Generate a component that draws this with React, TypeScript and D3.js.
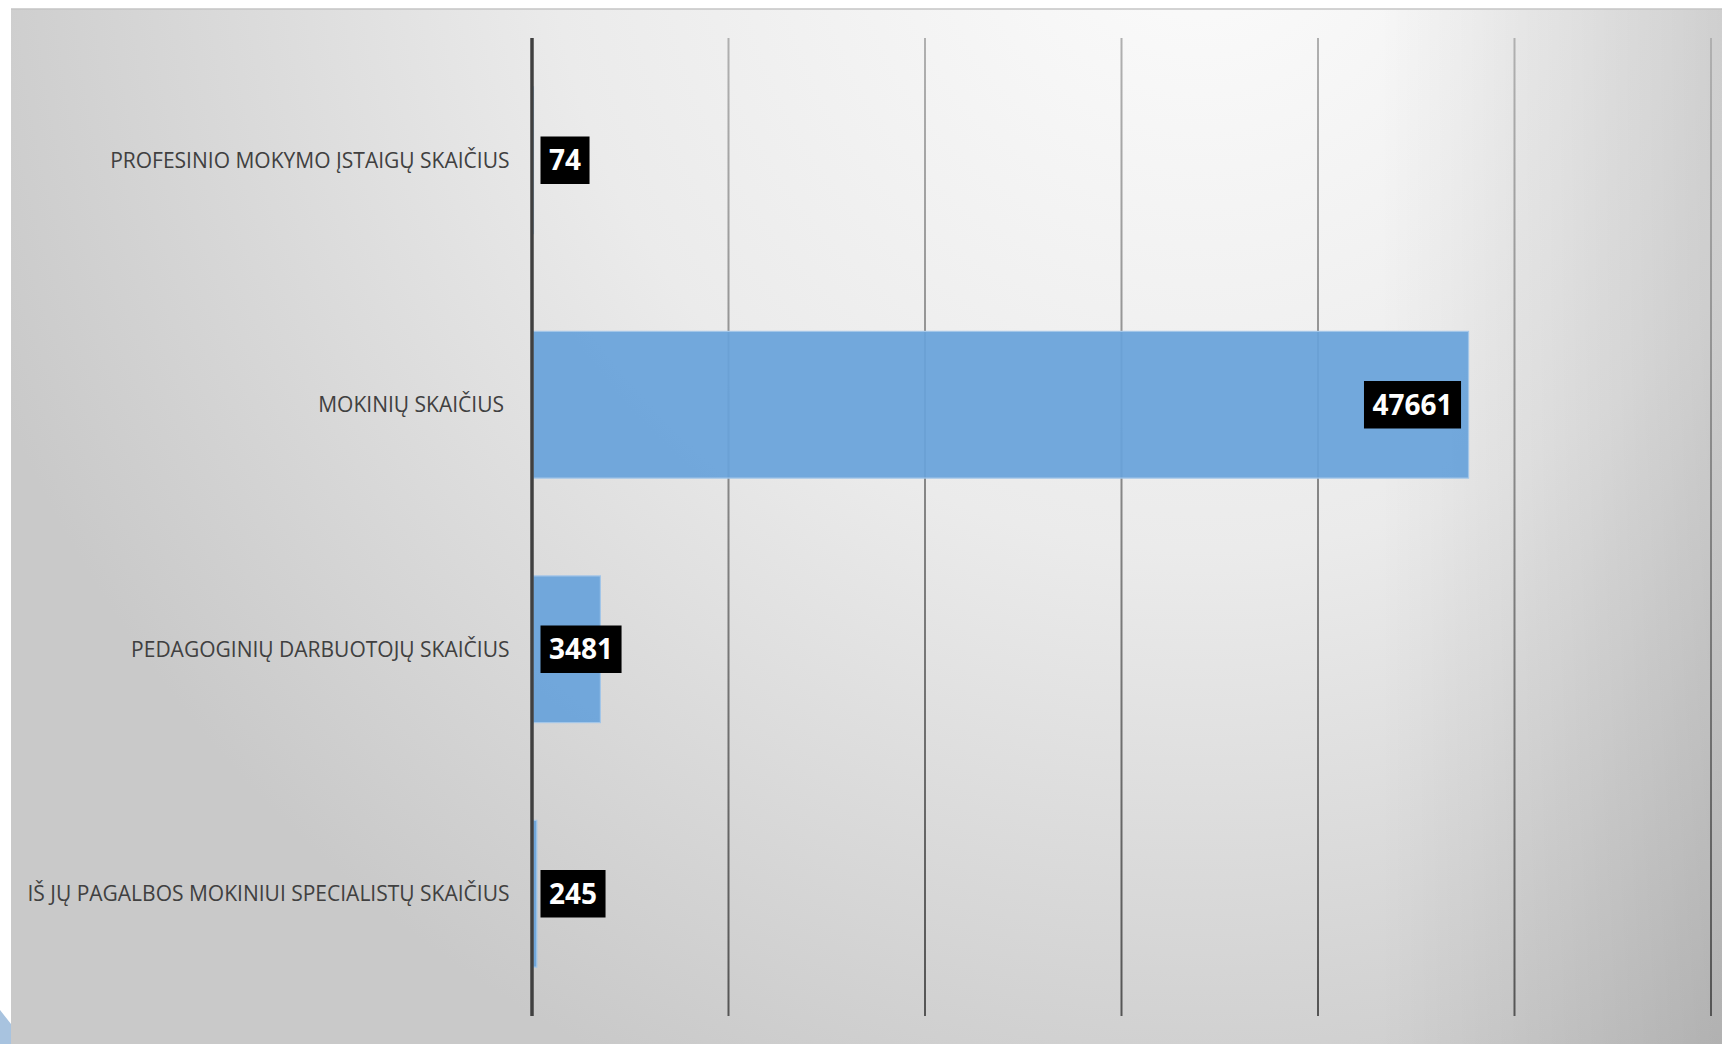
import React, { useEffect, useRef } from "react";
import * as d3 from "d3";

// chart data
const categories = [
  "PROFESINIO MOKYMO ĮSTAIGŲ SKAIČIUS",
  "MOKINIŲ SKAIČIUS ",
  "PEDAGOGINIŲ DARBUOTOJŲ SKAIČIUS",
  "IŠ JŲ PAGALBOS MOKINIUI SPECIALISTŲ SKAIČIUS",
];
const values = [74, 47661, 3481, 245];
const xTicks = [0, 10000, 20000, 30000, 40000, 50000, 60000];

const W = 1722;
const H = 1044;
const m = { top: 38, left: 532, right: 11, bottom: 28 };

const App = () => {
  const svgRef = useRef<SVGSVGElement | null>(null);

  useEffect(() => {
    const svg = d3.select(svgRef.current);
    svg.selectAll("*").remove();

    const defs = svg.append("defs");
    const bg = defs
      .append("radialGradient")
      .attr("id", "bg")
      .attr("gradientUnits", "userSpaceOnUse")
      .attr("cx", 1200)
      .attr("cy", -100)
      .attr("r", 1300);
    bg.append("stop").attr("offset", 0).attr("stop-color", "#fcfcfc");
    bg.append("stop").attr("offset", 0.5).attr("stop-color", "#ebebeb");
    bg.append("stop").attr("offset", 1).attr("stop-color", "#c9c9c9");

    const rightShade = defs
      .append("linearGradient")
      .attr("id", "rightShade")
      .attr("gradientUnits", "userSpaceOnUse")
      .attr("x1", 1380)
      .attr("x2", W)
      .attr("y1", 0)
      .attr("y2", 0);
    rightShade.append("stop").attr("offset", 0).attr("stop-color", "#000").attr("stop-opacity", 0);
    rightShade.append("stop").attr("offset", 1).attr("stop-color", "#000").attr("stop-opacity", 0.13);

    const gridGrad = defs
      .append("linearGradient")
      .attr("id", "gridGrad")
      .attr("gradientUnits", "userSpaceOnUse")
      .attr("x1", 0)
      .attr("x2", 0)
      .attr("y1", m.top)
      .attr("y2", H - m.bottom);
    gridGrad.append("stop").attr("offset", 0).attr("stop-color", "#b0b0b0");
    gridGrad.append("stop").attr("offset", 1).attr("stop-color", "#555555");

    // background panel
    svg.append("rect").attr("width", W).attr("height", H).attr("fill", "#ffffff");
    svg
      .append("rect")
      .attr("x", 11)
      .attr("y", 9)
      .attr("width", W - 11)
      .attr("height", H - 9)
      .attr("fill", "url(#bg)");
    svg
      .append("rect")
      .attr("x", 11)
      .attr("y", 9)
      .attr("width", W - 11)
      .attr("height", H - 9)
      .attr("fill", "url(#rightShade)");
    svg
      .append("line")
      .attr("x1", 11)
      .attr("x2", W)
      .attr("y1", 9)
      .attr("y2", 9)
      .attr("stroke", "#c4c4c4")
      .attr("stroke-width", 1.5);
    // little blue page corner bottom-left
    svg
      .append("path")
      .attr("d", "M0,1010 L11,1024 L11,1044 L0,1044 Z")
      .attr("fill", "#a8c3df");

    const xScale = d3
      .scaleLinear()
      .domain([0, 60000])
      .range([m.left, W - m.right]);

    const yScale = d3
      .scaleBand()
      .domain(categories)
      .range([m.top, H - m.bottom])
      .paddingInner(0.4)
      .paddingOuter(0.2);

    // gridlines
    svg
      .append("g")
      .selectAll("line")
      .data(xTicks.slice(1))
      .enter()
      .append("line")
      .attr("x1", (d) => xScale(d))
      .attr("x2", (d) => xScale(d))
      .attr("y1", m.top)
      .attr("y2", H - m.bottom)
      .attr("stroke", "url(#gridGrad)")
      .attr("stroke-width", 2);

    // bars
    svg
      .append("g")
      .selectAll("rect")
      .data(values)
      .enter()
      .append("rect")
      .attr("x", xScale(0) + 1)
      .attr("y", (_, i) => yScale(categories[i])!)
      .attr("width", (d) => Math.max(0, xScale(d) - xScale(0) - 1))
      .attr("height", yScale.bandwidth())
      .attr("fill", "#68a3da")
      .attr("fill-opacity", 0.93)
      .attr("stroke", "#a3c6e8")
      .attr("stroke-width", 1.2);

    // category axis line
    svg
      .append("line")
      .attr("x1", xScale(0))
      .attr("x2", xScale(0))
      .attr("y1", m.top)
      .attr("y2", H - m.bottom)
      .attr("stroke", "#404040")
      .attr("stroke-width", 3.5);

    // category labels
    svg
      .append("g")
      .selectAll("text")
      .data(categories)
      .enter()
      .append("text")
      .attr("x", xScale(0) - 22.5)
      .attr("y", (d) => yScale(d)! + yScale.bandwidth() / 2 + 7.5)
      .attr("text-anchor", "end")
      .style("white-space", "pre")
      .attr("font-family", "'Open Sans', sans-serif")
      .attr("font-size", 21)
      .attr("fill", "#404040")
      .text((d) => d);

    // data labels: black boxes, white bold numbers
    const labels = svg
      .append("g")
      .selectAll("g")
      .data(values)
      .enter()
      .append("g");

    labels.each(function (d, i) {
      const g = d3.select(this);
      const cy = yScale(categories[i])! + yScale.bandwidth() / 2;
      const rect = g.append("rect").attr("fill", "#000000");
      const t = g
        .append("text")
        .attr("font-family", "'Open Sans', sans-serif")
        .attr("font-weight", 700)
        .attr("font-size", 28)
        .attr("fill", "#ffffff")
        .text(String(d));
      const tw = (t.node() as SVGTextElement).getComputedTextLength();
      const bw = tw + 17;
      const bh = 47.5;
      const right = Math.max(xScale(d) - 7.5, xScale(0) + 8.5 + bw);
      const left = right - bw;
      rect.attr("x", left).attr("y", cy - bh / 2).attr("width", bw).attr("height", bh);
      t.attr("x", left + bw / 2).attr("y", cy + 10).attr("text-anchor", "middle");
    });
  }, []);

  return (
    <svg
      ref={svgRef}
      width={W}
      height={H}
      viewBox={`0 0 ${W} ${H}`}
      style={{ position: "absolute", left: 0, top: 0, display: "block" }}
    ></svg>
  );
};

export default App;
